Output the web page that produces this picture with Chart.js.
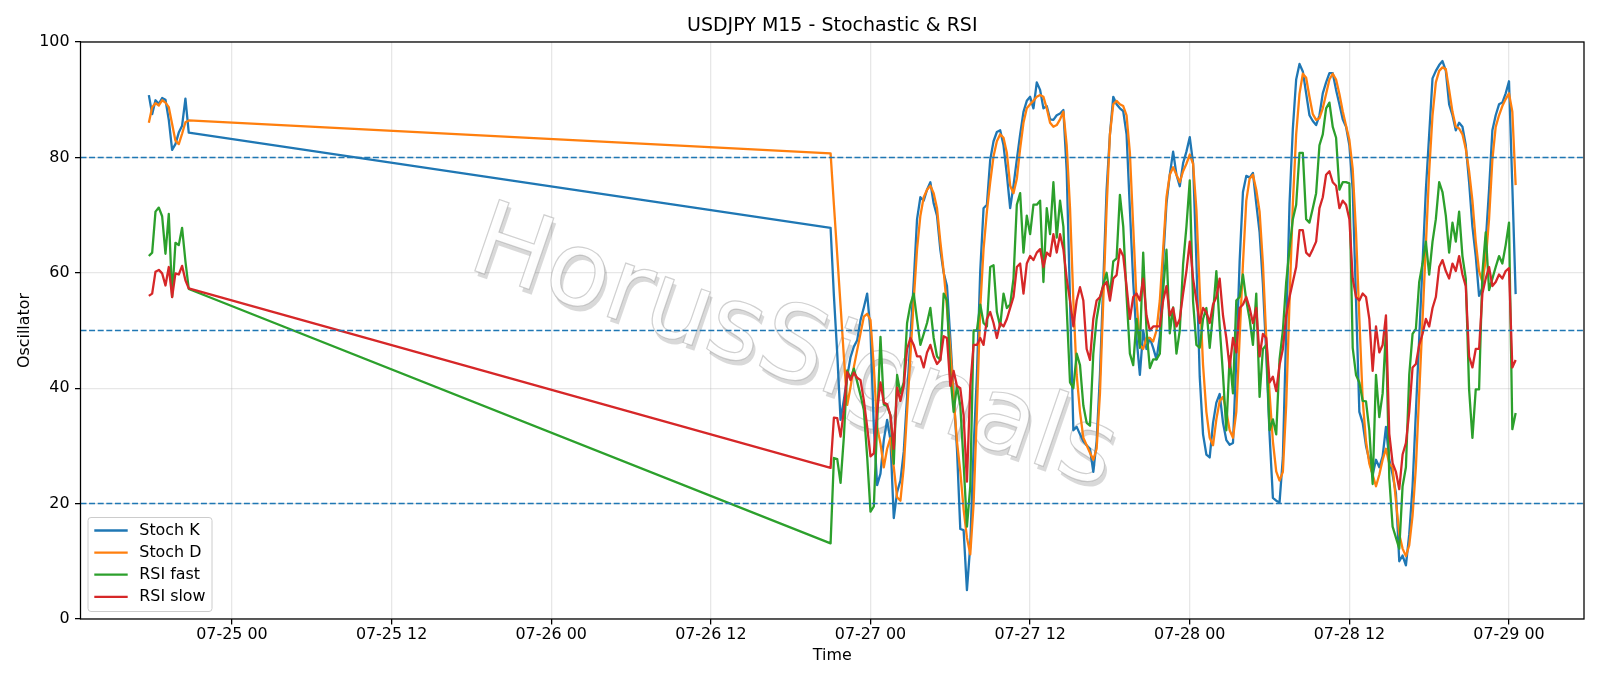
<!DOCTYPE html>
<html>
<head>
<meta charset="utf-8">
<title>USDJPY M15 - Stochastic & RSI</title>
<script src="https://cdn.jsdelivr.net/npm/chart.js@4.4.1/dist/chart.umd.min.js"></script>
<style>
  html, body { margin: 0; padding: 0; background: #fff; }
  canvas { display: block; }
</style>
</head>
<body>
<canvas id="oscChart" width="1600" height="686"></canvas>
<script>
// M15 bars, in hours from 07-25 00:00 (two sessions with a gap between)
const segStarts = [-6.25, 45];
const segLengths = [13, 207];

const xTickHours = [0, 12, 24, 36, 48, 60, 72, 84, 96];
const yTicks = [0, 20, 40, 60, 80, 100];
const levelLines = [80, 50, 20];

const stochK = [
  90.8, 87.5, 89.9, 89.3, 90.3, 90.0, 86.5, 81.3, 82.3, 84.3, 85.5, 90.2, 84.3,
  67.8, 56.0, 46.0, 34.5, 38.0, 42.0, 45.4, 47.2, 48.3, 51.8,
  54.0, 56.4, 49.8, 33.3, 23.2, 25.2, 31.0, 34.5, 31.0, 17.5,
  22.0, 24.0, 29.0, 38.5, 48.7, 58.4, 69.3, 73.1, 72.5, 74.4,
  75.7, 72.0, 69.9, 64.0, 60.0, 57.7, 48.7, 39.0, 29.5, 15.6,
  15.4, 5.0, 12.8, 29.5, 42.3, 60.3, 71.2, 71.8, 79.6, 82.8,
  84.4, 84.7, 82.1, 77.0, 71.2, 75.1, 79.6, 84.0, 87.9, 89.8,
  90.5, 88.5, 93.0, 91.7, 88.5, 88.9, 86.6, 86.5, 87.3, 87.6,
  88.2, 77.6, 55.2, 32.7, 33.3, 32.0, 30.8, 30.1, 29.5, 25.5,
  30.8, 42.3, 58.4, 74.4, 84.0, 90.5, 89.2, 88.5, 88.0, 84.0,
  71.0, 58.4, 48.7, 42.3, 50.0, 46.8, 48.7, 47.0, 45.0, 49.0,
  62.0, 72.0, 77.0, 81.0, 77.0, 75.0, 79.0, 81.0, 83.5, 79.0,
  62.0, 42.0, 32.0, 28.5, 28.0, 34.0, 37.5, 39.0, 34.0, 31.0,
  30.2, 30.5, 45.0, 62.0, 74.0, 76.8, 76.5, 77.3, 72.0, 67.0,
  58.0, 46.0, 32.0, 21.0, 20.5, 20.2, 28.0, 50.0, 72.0, 85.0,
  93.5, 96.2, 94.9, 91.1, 87.3, 86.3, 85.6, 87.3, 91.1, 93.0,
  94.6, 94.6, 91.7, 89.2, 86.6, 85.3, 82.1, 74.4, 55.2, 35.9,
  34.0, 30.0, 27.5, 25.0, 27.6, 26.3, 28.2, 33.3, 27.6, 25.0,
  21.8, 10.0, 11.0, 9.3, 14.7, 23.0, 35.9, 48.7, 61.6, 74.4,
  84.0, 93.7, 95.0, 96.0, 96.7, 95.0, 89.2, 87.3, 84.7, 86.0,
  85.3, 82.1, 75.7, 68.0, 62.9, 56.0, 57.4, 65.4, 74.4, 84.7,
  87.3, 89.2, 89.5, 91.1, 93.2, 75.0, 56.3
];

const stochD = [
  86.0, 88.7, 89.4, 89.0, 89.9, 89.5, 88.7, 85.8, 82.9, 82.3, 84.1, 86.1, 86.4,
  80.7, 71.8, 63.1, 54.3, 45.4, 37.1, 40.2, 43.7, 46.6, 49.5,
  52.4, 52.9, 51.8, 43.7, 33.3, 30.4, 26.3, 29.5, 31.4, 26.3,
  21.1, 20.5, 26.3, 35.9, 45.5, 55.2, 64.1, 69.9, 73.1, 74.4,
  75.1, 73.8, 71.2, 65.4, 60.3, 53.9, 46.8, 38.5, 30.8, 25.6,
  19.0, 14.1, 11.2, 19.9, 35.9, 53.9, 64.1, 70.6, 75.7, 80.2,
  82.8, 84.0, 83.4, 80.8, 75.1, 73.8, 76.3, 81.5, 86.0, 88.5,
  89.2, 89.8, 90.5, 90.8, 90.5, 88.5, 86.0, 85.3, 85.6, 86.6,
  87.9, 82.1, 71.2, 55.2, 42.3, 35.9, 31.4, 30.1, 28.8, 27.6,
  29.5, 39.1, 55.2, 71.2, 84.0, 89.2, 89.8, 89.2, 88.9, 87.3,
  80.8, 68.0, 55.2, 47.5, 46.8, 48.7, 48.7, 48.1, 50.0, 55.2,
  64.1, 73.1, 77.0, 78.3, 77.0, 75.7, 77.6, 78.9, 80.5, 78.9,
  71.0, 57.0, 44.0, 35.9, 31.4, 30.1, 34.6, 37.8, 38.5, 36.0,
  32.7, 31.4, 35.9, 48.7, 61.6, 72.5, 76.3, 77.0, 74.4, 70.6,
  61.6, 48.7, 39.1, 30.8, 25.6, 24.0, 25.5, 37.0, 55.0, 72.0,
  84.0, 91.0, 94.5, 93.8, 90.5, 87.5, 86.5, 86.8, 88.5, 91.0,
  93.5, 94.5, 93.5, 91.0, 88.0, 85.5, 83.0, 78.0, 67.0, 52.0,
  38.0, 30.8, 26.9, 25.0, 23.0, 25.0, 27.6, 29.5, 26.9, 26.3,
  20.5, 14.7, 12.2, 10.9, 12.8, 17.9, 26.3, 39.1, 51.9, 64.8,
  77.6, 87.3, 93.0, 95.0, 95.6, 95.3, 91.7, 87.9, 85.3, 85.0,
  84.0, 81.5, 77.6, 72.5, 65.4, 60.3, 58.4, 62.2, 69.3, 79.6,
  85.3, 87.3, 88.9, 90.1, 91.1, 87.9, 75.2
];

const rsiFast = [
  62.9, 63.5, 70.6, 71.3, 69.8, 63.3, 70.2, 55.8, 65.2, 64.8, 67.8, 62.0, 57.2,
  13.1, 27.9, 27.7, 23.6, 31.6, 43.1, 41.7, 43.4, 41.1, 38.8,
  36.2, 28.1, 18.6, 19.5, 33.9, 48.9, 37.2, 36.9, 35.3, 26.9,
  42.3, 39.1, 41.0, 51.3, 54.5, 56.4, 51.9, 47.5, 49.4, 51.3,
  53.9, 48.7, 45.5, 44.9, 56.4, 55.2, 42.3, 35.9, 40.4, 37.0,
  27.0, 16.0, 23.0, 50.0, 50.0, 54.5, 51.3, 50.7, 61.0, 61.3,
  53.2, 50.7, 56.4, 53.9, 54.5, 59.0, 71.8, 73.8, 63.5, 69.9,
  66.7, 71.8, 71.8, 72.5, 58.4, 71.2, 66.7, 75.7, 66.1, 72.5,
  68.0, 53.9, 41.0, 40.0, 46.0, 44.0, 37.0, 34.0, 33.5, 46.0,
  52.0, 55.5, 58.0, 60.0, 56.0, 62.0, 62.5, 73.5, 68.0, 56.0,
  46.0, 44.0, 52.0, 47.0, 63.5, 50.0, 43.5, 45.0, 45.0, 46.0,
  57.0, 64.0, 49.5, 54.0, 46.0, 50.0, 61.5, 68.0, 76.0, 55.0,
  47.5, 47.0, 52.0, 53.9, 47.0, 53.0, 60.3, 50.7, 42.3, 32.7,
  45.5, 39.1, 55.2, 55.8, 59.7, 55.2, 52.0, 47.5, 56.4, 38.5,
  46.8, 47.5, 32.7, 34.6, 32.0, 45.0, 50.0, 58.4, 64.1, 69.3,
  71.8, 80.8, 80.8, 69.3, 68.7, 71.2, 73.8, 82.1, 84.0, 88.5,
  89.5, 85.3, 83.4, 74.4, 75.7, 75.7, 75.5, 47.0, 42.3, 41.0,
  37.8, 37.7, 32.7, 23.4, 42.3, 35.0, 39.1, 50.0, 24.4, 16.0,
  14.1, 12.2, 23.0, 26.3, 42.3, 49.4, 50.3, 58.4, 61.6, 65.4,
  59.7, 65.4, 69.3, 75.7, 74.0, 69.9, 63.5, 68.7, 65.4, 70.6,
  62.9, 59.0, 39.8, 31.4, 39.8, 39.8, 60.0, 67.0, 57.0, 59.0,
  61.0, 62.9, 61.6, 64.8, 68.7, 32.9, 35.7
];

const rsiSlow = [
  56.0, 56.4, 60.2, 60.5, 59.9, 57.8, 61.0, 55.8, 59.9, 59.7, 61.2, 58.7, 57.3,
  26.2, 34.9, 34.8, 31.6, 36.2, 42.8, 41.4, 42.7, 41.8, 41.4,
  37.9, 33.3, 28.2, 28.7, 36.2, 41.0, 37.5, 37.2, 35.3, 29.5,
  40.1, 37.8, 40.4, 46.8, 48.7, 47.5, 45.5, 45.5, 43.6, 46.2,
  47.5, 45.5, 44.2, 44.9, 49.0, 48.7, 40.4, 43.0, 40.4, 40.0,
  35.3, 23.8, 40.4, 47.5, 47.5, 48.7, 47.5, 52.0, 53.2, 51.3,
  48.7, 51.3, 50.7, 52.0, 53.9, 55.8, 61.0, 61.6, 56.4, 61.6,
  62.9, 62.2, 63.5, 64.1, 61.0, 63.5, 62.9, 66.7, 63.5, 66.7,
  64.1, 59.0, 55.2, 50.7, 55.2, 57.5, 55.2, 46.8, 44.9, 52.0,
  55.2, 55.8, 57.7, 58.4, 55.2, 59.0, 59.6, 64.1, 62.9, 57.7,
  52.0, 55.8, 56.4, 55.2, 59.0, 52.6, 50.0, 50.7, 50.7, 50.7,
  55.2, 57.7, 52.6, 53.9, 50.7, 52.0, 56.4, 60.3, 65.4, 59.0,
  55.2, 51.3, 53.9, 53.2, 51.3, 54.5, 55.8, 59.0, 52.6, 48.7,
  43.6, 48.7, 46.2, 53.9, 54.5, 55.8, 53.9, 51.3, 53.9, 45.5,
  49.4, 48.7, 41.0, 42.0, 39.5, 44.0, 46.8, 52.6, 55.8, 58.4,
  61.0, 67.4, 67.4, 63.5, 62.9, 64.1, 65.4, 71.2, 73.1, 77.0,
  77.6, 75.7, 75.1, 71.2, 72.5, 71.8, 69.3, 59.0, 55.8, 55.2,
  56.4, 55.8, 52.0, 43.0, 50.7, 46.2, 47.5, 52.6, 32.1, 27.0,
  25.5, 22.5, 28.5, 30.5, 35.9, 43.6, 44.2, 47.5, 49.4, 52.0,
  50.7, 53.9, 55.8, 61.0, 62.2, 60.3, 59.0, 61.6, 60.3, 62.9,
  59.7, 57.7, 45.5, 43.6, 46.8, 46.8, 56.4, 59.0, 61.0, 57.7,
  58.4, 59.7, 59.0, 60.3, 60.8, 43.6, 44.9
];

// build bar times from the sessions
const times = [];
segStarts.forEach((start, k) => {
  for (let n = 0; n < segLengths[k]; n++) times.push(start + n * 0.25);
});

// matplotlib-like 5% margins on the time axis
const span = times[times.length - 1] - times[0];
const xMin = times[0] - 0.05 * span;
const xMax = times[times.length - 1] + 0.05 * span;

function toPoints(values) {
  return values.map((v, i) => ({ x: times[i], y: v }));
}

function fmtTime(h) {
  const day = 25 + Math.floor(h / 24);
  const hour = ((h % 24) + 24) % 24;
  return '07-' + String(day).padStart(2, '0') + ' ' + String(hour).padStart(2, '0');
}

const FONT = 'DejaVu Sans';
const tickFont = { family: FONT, size: 15.9 };
const gridColor = 'rgba(176,176,176,0.3)';

// watermark behind the lines
const watermark = {
  id: 'watermark',
  beforeDatasetsDraw(chart) {
    const ctx = chart.ctx;
    const text = 'HorusSignals';
    ctx.save();
    ctx.font = '100px "' + FONT + '"';
    const size = 100 * 675 / ctx.measureText(text).width;
    ctx.font = size + 'px "' + FONT + '"';
    ctx.translate(793, 352);
    ctx.rotate(19 * Math.PI / 180);
    ctx.textAlign = 'center';
    ctx.textBaseline = 'middle';
    ctx.fillStyle = 'rgba(0,0,0,0.15)';
    ctx.fillText(text, 4, 4);
    ctx.fillStyle = 'rgba(255,255,255,0.95)';
    ctx.fillText(text, 0, 0);
    ctx.lineWidth = 1.2;
    ctx.strokeStyle = 'rgba(150,150,150,0.45)';
    ctx.strokeText(text, 0, 0);
    ctx.restore();
  }
};

// dashed levels, frame, legend and title
const decorations = {
  id: 'decorations',
  afterDatasetsDraw(chart) {
    const { ctx, chartArea: a, scales } = chart;
    ctx.save();
    ctx.strokeStyle = '#1f77b4';
    ctx.lineWidth = 1.5;
    ctx.setLineDash([6, 2.6]);
    levelLines.forEach(level => {
      const y = scales.y.getPixelForValue(level);
      ctx.beginPath();
      ctx.moveTo(a.left, y);
      ctx.lineTo(a.right, y);
      ctx.stroke();
    });
    ctx.setLineDash([]);

    ctx.strokeStyle = '#000';
    ctx.lineWidth = 1.27;
    ctx.strokeRect(a.left, a.top, a.right - a.left, a.bottom - a.top);

    // legend box, lower left
    const lx = a.left + 7.5, ly = a.bottom - 7.5 - 94, lw = 124, lh = 94;
    ctx.beginPath();
    ctx.roundRect(lx, ly, lw, lh, 3);
    ctx.fillStyle = 'rgba(255,255,255,0.8)';
    ctx.fill();
    ctx.strokeStyle = '#cccccc';
    ctx.lineWidth = 1;
    ctx.stroke();
    ctx.font = '15.9px "' + FONT + '"';
    ctx.textBaseline = 'middle';
    ctx.textAlign = 'left';
    chart.data.datasets.forEach((ds, k) => {
      const y = ly + 13 + k * 22.1;
      ctx.strokeStyle = ds.borderColor;
      ctx.lineWidth = 2.3;
      ctx.beginPath();
      ctx.moveTo(lx + 6.3, y);
      ctx.lineTo(lx + 39.7, y);
      ctx.stroke();
      ctx.fillStyle = '#000';
      ctx.fillText(ds.label, lx + 51.3, y);
    });

    ctx.font = '19px "' + FONT + '"';
    ctx.textAlign = 'center';
    ctx.fillText('USDJPY M15 - Stochastic & RSI', (a.left + a.right) / 2, 26.5);
    ctx.restore();
  }
};

const ctx = document.getElementById('oscChart').getContext('2d');
new Chart(ctx, {
  type: 'line',
  data: {
    datasets: [
      { label: 'Stoch K', data: toPoints(stochK), borderColor: '#1f77b4', order: 4 },
      { label: 'Stoch D', data: toPoints(stochD), borderColor: '#ff7f0e', order: 3 },
      { label: 'RSI fast', data: toPoints(rsiFast), borderColor: '#2ca02c', order: 2 },
      { label: 'RSI slow', data: toPoints(rsiSlow), borderColor: '#d62728', order: 1 }
    ]
  },
  options: {
    responsive: false,
    animation: false,
    devicePixelRatio: 1,
    layout: { padding: { left: 0, right: 16, top: 42, bottom: 0 } },
    elements: {
      point: { radius: 0 },
      line: { borderWidth: 2.3, tension: 0, borderJoinStyle: 'round', fill: false }
    },
    plugins: {
      legend: { display: false },
      tooltip: { enabled: false },
      title: { display: false }
    },
    scales: {
      x: {
        type: 'linear',
        min: xMin,
        max: xMax,
        afterBuildTicks: axis => { axis.ticks = xTickHours.map(v => ({ value: v })); },
        afterFit: scale => { scale.height = 67; },
        ticks: { callback: v => fmtTime(v), color: '#000', font: tickFont, padding: 1, maxRotation: 0, autoSkip: false },
        grid: { color: gridColor, lineWidth: 1.27, tickLength: 5.5, tickColor: '#000', tickWidth: 1.27 },
        border: { display: false },
        title: { display: true, text: 'Time', color: '#000', font: tickFont, padding: { top: 0, bottom: 20.5 } }
      },
      y: {
        min: 0,
        max: 100,
        afterBuildTicks: axis => { axis.ticks = yTicks.map(v => ({ value: v })); },
        afterFit: scale => { scale.width = 80.5; },
        ticks: { color: '#000', font: tickFont, padding: 5.5 },
        grid: { color: gridColor, lineWidth: 1.27, tickLength: 5.5, tickColor: '#000', tickWidth: 1.27 },
        border: { display: false },
        title: { display: true, text: 'Oscillator', color: '#000', font: tickFont, padding: { top: 15.5, bottom: 0 } }
      }
    }
  },
  plugins: [watermark, decorations]
});
</script>
</body>
</html>
